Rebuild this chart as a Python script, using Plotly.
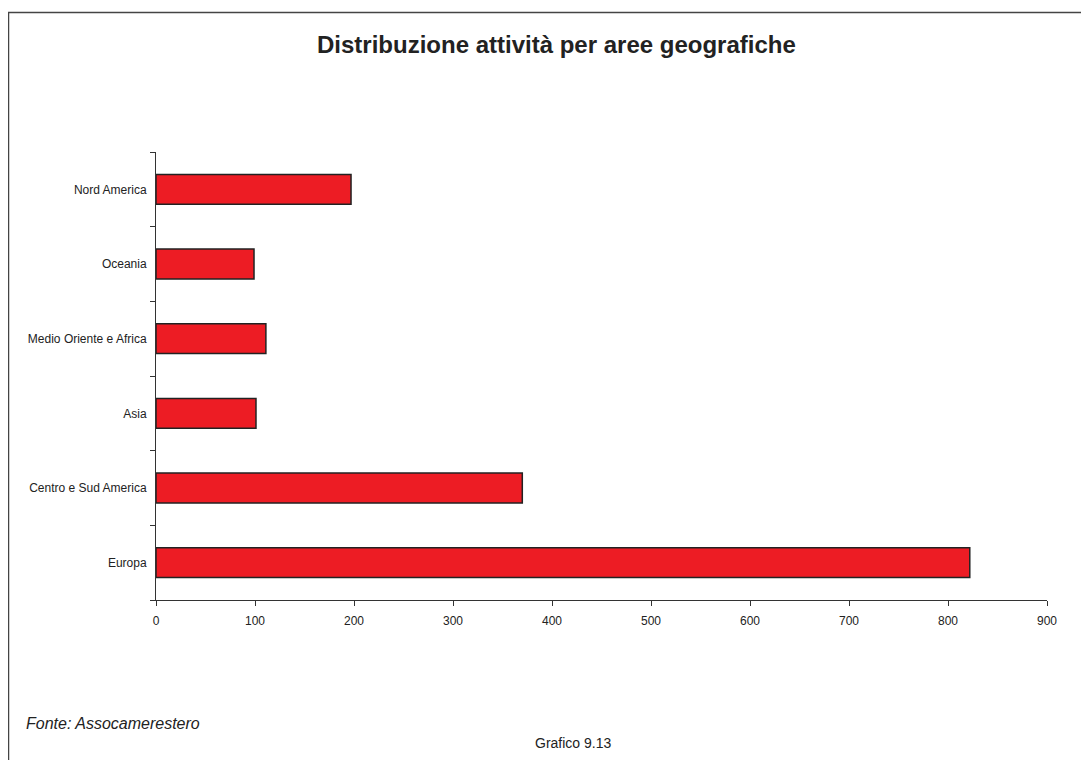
import plotly.graph_objects as go

categories = ["Europa", "Centro e Sud America", "Asia", "Medio Oriente e Africa", "Oceania", "Nord America"]
values = [822, 370, 101, 111, 99, 197]
x_ticks = [0, 100, 200, 300, 400, 500, 600, 700, 800, 900]

# page body has an 8px margin; work in screen pixel coordinates
OFF = 8
W, H = 1089 - OFF, 760 - OFF
PL, PR, PT, PB = 156, 1047, 152, 600  # plot area in screen px
L, T = PL - OFF, PT - OFF
R = W - (PR - OFF)
B = H - (PB - OFF)
pw, ph = PR - PL, PB - PT

def px(x):
    return (x - PL) / pw

def py(y):
    return (PB - y) / ph

fig = go.Figure()
fig.add_trace(go.Bar(
    x=values, y=categories, orientation="h",
    marker=dict(color="#ED1C24", line=dict(color="#222222", width=1.5)),
    width=0.4,
    hoverinfo="x+y",
))

font = "Liberation Sans, Arial, sans-serif"
fig.update_layout(
    width=W, height=H,
    margin=dict(l=L, r=R, t=T, b=B, pad=0),
    paper_bgcolor="white", plot_bgcolor="white",
    showlegend=False,
    font=dict(family=font, size=12, color="#222222"),
    xaxis=dict(
        range=[0, 900], tickvals=x_ticks, ticktext=[str(v) for v in x_ticks],
        showgrid=False, zeroline=False, showline=True, linecolor="#333333", linewidth=1,
        ticks="outside", ticklen=5, tickcolor="#333333", tickfont=dict(size=12, color="#222222"),
        ticklabelstandoff=5,
        fixedrange=True,
    ),
    yaxis=dict(
        type="category", categoryorder="array", categoryarray=categories,
        range=[-0.5, 5.5],
        showgrid=False, zeroline=False, showline=True, linecolor="#333333", linewidth=1,
        ticks="outside", ticklen=5, tickcolor="#333333", tickson="boundaries",
        tickfont=dict(size=12, color="#222222"), ticklabelstandoff=6,
        fixedrange=True,
    ),
    shapes=[dict(
        type="rect", xref="paper", yref="paper",
        x0=px(8.5), x1=px(1110), y0=py(12.5), y1=py(790),
        line=dict(color="#444444", width=1.5), fillcolor="rgba(0,0,0,0)",
    )],
    annotations=[
        dict(text="<b>Distribuzione attività per aree geografiche</b>", xref="paper", yref="paper",
             x=px(556), y=py(45), xanchor="center", yanchor="middle", showarrow=False,
             font=dict(size=24, color="#222222", family=font)),
        dict(text="<i>Fonte: Assocamerestero</i>", xref="paper", yref="paper",
             x=px(24), y=py(723), xanchor="left", yanchor="middle", showarrow=False,
             font=dict(size=16, color="#222222", family=font)),
        dict(text="Grafico 9.13", xref="paper", yref="paper",
             x=px(613), y=py(743), xanchor="right", yanchor="middle", showarrow=False,
             font=dict(size=14, color="#222222", family=font)),
    ],
)

fig.write_html("out.html")
